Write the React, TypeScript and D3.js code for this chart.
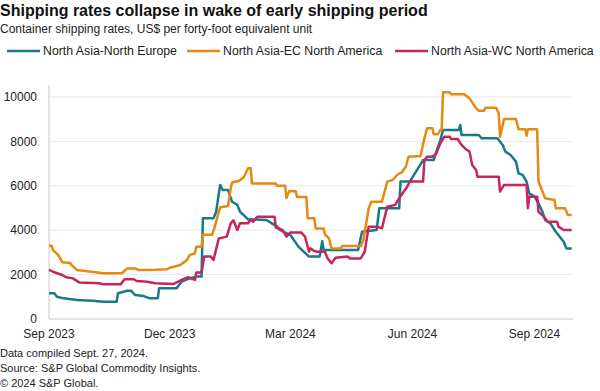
import React, { useEffect, useRef } from "react";
import * as d3 from "d3";

// [date, US$/FEU]
const northEurope: [string, number][] = [
  ["2023-09-01", 1160], ["2023-09-05", 1160], ["2023-09-07", 1000], ["2023-09-12", 930],
  ["2023-09-22", 860], ["2023-10-04", 820], ["2023-10-12", 780], ["2023-10-22", 780],
  ["2023-10-23", 1160], ["2023-10-30", 1270], ["2023-11-02", 1270], ["2023-11-05", 1080],
  ["2023-11-11", 1040], ["2023-11-16", 930], ["2023-11-22", 930], ["2023-11-23", 1380],
  ["2023-12-06", 1380], ["2023-12-10", 1680], ["2023-12-16", 1830], ["2023-12-21", 1910],
  ["2023-12-25", 1910], ["2023-12-26", 4540], ["2024-01-03", 4540], ["2024-01-05", 4830],
  ["2024-01-08", 6040], ["2024-01-10", 5810], ["2024-01-14", 5810], ["2024-01-17", 5280],
  ["2024-01-21", 5140], ["2024-01-23", 4830], ["2024-01-27", 4610], ["2024-01-29", 4490],
  ["2024-02-12", 4460], ["2024-02-16", 4310], ["2024-02-20", 4160], ["2024-02-22", 4010],
  ["2024-03-01", 3780], ["2024-03-07", 3260], ["2024-03-15", 2810], ["2024-03-23", 2810],
  ["2024-03-25", 3500], ["2024-03-26", 3110], ["2024-04-21", 3110], ["2024-04-24", 3930],
  ["2024-05-05", 4010], ["2024-05-07", 4990], ["2024-05-22", 4990], ["2024-05-23", 6190],
  ["2024-05-30", 6190], ["2024-06-09", 7160], ["2024-06-17", 7160], ["2024-06-19", 7540],
  ["2024-06-22", 8060], ["2024-06-24", 8510], ["2024-07-06", 8510], ["2024-07-07", 8740],
  ["2024-07-08", 8290], ["2024-07-21", 8290], ["2024-07-23", 8140], ["2024-08-04", 8140],
  ["2024-08-08", 7840], ["2024-08-10", 7540], ["2024-08-14", 7390], ["2024-08-18", 7090],
  ["2024-08-20", 6560], ["2024-08-23", 6490], ["2024-08-26", 6190], ["2024-08-28", 5660],
  ["2024-09-01", 5510], ["2024-09-04", 5210], ["2024-09-07", 4830], ["2024-09-09", 4460],
  ["2024-09-13", 4310], ["2024-09-17", 3930], ["2024-09-19", 3780], ["2024-09-23", 3480],
  ["2024-09-25", 3180], ["2024-09-29", 3180],
];

const ecNorthAmerica: [string, number][] = [
  ["2023-09-01", 3300], ["2023-09-03", 3300], ["2023-09-04", 3100], ["2023-09-08", 2880],
  ["2023-09-11", 2560], ["2023-09-17", 2520], ["2023-09-18", 2430], ["2023-09-22", 2210],
  ["2023-10-03", 2130], ["2023-10-12", 2060], ["2023-10-26", 2060], ["2023-10-30", 2280],
  ["2023-11-05", 2280], ["2023-11-07", 2210], ["2023-11-20", 2220], ["2023-11-29", 2240],
  ["2023-12-01", 2310], ["2023-12-09", 2430], ["2023-12-14", 2660], ["2023-12-16", 2880],
  ["2023-12-20", 2960], ["2023-12-21", 3260], ["2023-12-25", 3260], ["2023-12-26", 3800],
  ["2024-01-02", 3800], ["2024-01-04", 4160], ["2024-01-06", 4610], ["2024-01-08", 5030],
  ["2024-01-14", 5090], ["2024-01-16", 5890], ["2024-01-17", 6150], ["2024-01-22", 6220],
  ["2024-01-26", 6400], ["2024-01-29", 6790], ["2024-01-31", 6790], ["2024-02-01", 6100],
  ["2024-02-19", 6100], ["2024-02-20", 6000], ["2024-02-26", 6000], ["2024-02-27", 5450],
  ["2024-02-29", 5750], ["2024-03-05", 5750], ["2024-03-06", 5500], ["2024-03-13", 5500],
  ["2024-03-14", 4540], ["2024-03-19", 4540], ["2024-03-20", 4080], ["2024-03-26", 4080],
  ["2024-03-27", 3810], ["2024-03-30", 3630], ["2024-04-01", 3180], ["2024-04-08", 3180],
  ["2024-04-09", 3290], ["2024-04-23", 3290], ["2024-04-25", 3560], ["2024-04-29", 4990],
  ["2024-05-01", 5280], ["2024-05-09", 5280], ["2024-05-13", 6190], ["2024-05-17", 6260],
  ["2024-05-21", 6520], ["2024-05-24", 6610], ["2024-05-27", 6860], ["2024-05-29", 7310],
  ["2024-06-07", 7340], ["2024-06-10", 8140], ["2024-06-12", 8590], ["2024-06-16", 8590],
  ["2024-06-17", 8320], ["2024-06-20", 8320], ["2024-06-22", 8510], ["2024-06-23", 8510],
  ["2024-06-24", 10210], ["2024-06-29", 10210], ["2024-06-30", 10120], ["2024-07-10", 10120],
  ["2024-07-14", 9940], ["2024-07-19", 9490], ["2024-07-21", 9380], ["2024-07-25", 9380],
  ["2024-07-26", 9520], ["2024-08-03", 9520], ["2024-08-05", 9270], ["2024-08-06", 8210],
  ["2024-08-09", 9010], ["2024-08-18", 9010], ["2024-08-20", 8550], ["2024-08-25", 8550],
  ["2024-08-26", 8250], ["2024-08-27", 8550], ["2024-09-03", 8550], ["2024-09-04", 6190],
  ["2024-09-07", 5740], ["2024-09-09", 5440], ["2024-09-16", 5360], ["2024-09-17", 4990],
  ["2024-09-24", 4990], ["2024-09-26", 4690], ["2024-09-29", 4690],
];

const wcNorthAmerica: [string, number][] = [
  ["2023-09-01", 2210], ["2023-09-04", 2130], ["2023-09-11", 1980], ["2023-09-14", 1880],
  ["2023-09-19", 1830], ["2023-09-24", 1640], ["2023-10-09", 1610], ["2023-10-12", 1560],
  ["2023-10-25", 1560], ["2023-10-28", 1790], ["2023-11-04", 1790], ["2023-11-06", 1710],
  ["2023-11-14", 1680], ["2023-11-20", 1610], ["2023-12-04", 1580], ["2023-12-10", 1760],
  ["2023-12-15", 1880], ["2023-12-20", 1760], ["2023-12-21", 2090], ["2023-12-25", 2090],
  ["2023-12-27", 2810], ["2024-01-01", 2810], ["2024-01-03", 2660], ["2024-01-07", 3630],
  ["2024-01-13", 3710], ["2024-01-16", 4310], ["2024-01-18", 4450], ["2024-01-21", 4010],
  ["2024-01-23", 4310], ["2024-01-29", 4310], ["2024-01-31", 4480], ["2024-02-02", 4380],
  ["2024-02-05", 4610], ["2024-02-18", 4610], ["2024-02-19", 4120], ["2024-02-24", 4010],
  ["2024-02-27", 3710], ["2024-03-01", 3900], ["2024-03-09", 3900], ["2024-03-12", 3710],
  ["2024-03-15", 3030], ["2024-03-16", 3180], ["2024-03-19", 3060], ["2024-03-21", 3030],
  ["2024-03-27", 3030], ["2024-03-29", 2730], ["2024-04-01", 2510], ["2024-04-04", 2760],
  ["2024-04-13", 2810], ["2024-04-15", 2730], ["2024-04-23", 2730], ["2024-04-26", 3030],
  ["2024-04-29", 4160], ["2024-05-05", 4160], ["2024-05-09", 4090], ["2024-05-13", 5060],
  ["2024-05-19", 5140], ["2024-05-22", 5440], ["2024-05-28", 5960], ["2024-05-30", 6190],
  ["2024-06-09", 6190], ["2024-06-10", 7160], ["2024-06-12", 7310], ["2024-06-16", 7310],
  ["2024-06-19", 7460], ["2024-06-22", 7910], ["2024-06-25", 8210], ["2024-06-29", 8210],
  ["2024-06-30", 8110], ["2024-07-05", 8110], ["2024-07-08", 7840], ["2024-07-11", 7660],
  ["2024-07-14", 7540], ["2024-07-16", 6940], ["2024-07-19", 6710], ["2024-07-20", 6410],
  ["2024-08-05", 6410], ["2024-08-06", 5740], ["2024-08-09", 6040], ["2024-08-26", 6040],
  ["2024-08-27", 4990], ["2024-08-28", 5510], ["2024-09-03", 5510], ["2024-09-04", 4830],
  ["2024-09-08", 4610], ["2024-09-11", 4380], ["2024-09-18", 4380], ["2024-09-19", 4160],
  ["2024-09-23", 4010], ["2024-09-29", 4010],
];

const seriesNames = ["North Asia-North Europe", "North Asia-EC North America", "North Asia-WC North America"];
const seriesColors = ["#16798c", "#e8880f", "#c7255b"];
const yTicks = [0, 2000, 4000, 6000, 8000, 10000];
const xTickDates = ["2023-09-01", "2023-12-01", "2024-03-01", "2024-06-01", "2024-09-01"];
const xTickLabels = ["Sep 2023", "Dec 2023", "Mar 2024", "Jun 2024", "Sep 2024"];
const footerLines = [
  "Data compiled Sept. 27, 2024.",
  "Source: S&P Global Commodity Insights.",
  "\u00a9 2024 S&P Global.",
];

const width = 600;
const height = 391;
const margin = { top: 97, right: 27, bottom: 72, left: 49 };
const font = "Arial, 'Liberation Sans', Helvetica, sans-serif";

export default function App() {
  const ref = useRef<SVGSVGElement | null>(null);

  useEffect(() => {
    const svg = d3.select(ref.current);
    svg.selectAll("*").remove();

    const parse = d3.utcParse("%Y-%m-%d");

    const x = d3.scaleUtc()
      .domain([parse("2023-09-01")!, parse("2024-09-30")!])
      .range([margin.left, width - margin.right]);

    const y = d3.scaleLinear()
      .domain([0, 10000])
      .range([height - margin.bottom, margin.top]);

    svg.append("rect").attr("width", width).attr("height", height).attr("fill", "#fff");

    // grid
    svg.selectAll(".grid")
      .data(yTicks.filter(d => d > 0))
      .enter()
      .append("line")
      .attr("x1", margin.left)
      .attr("x2", width - margin.right)
      .attr("y1", d => y(d))
      .attr("y2", d => y(d))
      .attr("stroke", "#e8e8e8")
      .attr("stroke-width", 1);

    // axes lines
    svg.append("line")
      .attr("x1", margin.left).attr("x2", margin.left)
      .attr("y1", y(10000) - 12).attr("y2", y(0))
      .attr("stroke", "#c8c8c8");
    svg.append("line")
      .attr("x1", margin.left).attr("x2", width - margin.right)
      .attr("y1", y(0)).attr("y2", y(0))
      .attr("stroke", "#c8c8c8");

    // y tick labels
    svg.selectAll(".ylab")
      .data(yTicks)
      .enter()
      .append("text")
      .attr("x", margin.left - 12)
      .attr("y", d => y(d))
      .attr("dy", "0.35em")
      .attr("text-anchor", "end")
      .attr("font-family", font)
      .attr("font-size", 12)
      .attr("fill", "#222")
      .text(d => String(d));

    // x tick labels
    xTickDates.forEach((d, i) => {
      svg.append("text")
        .attr("x", x(parse(d)!))
        .attr("y", height - margin.bottom + 19)
        .attr("text-anchor", "middle")
        .attr("font-family", font)
        .attr("font-size", 12)
        .attr("fill", "#222")
        .text(xTickLabels[i]);
    });

    // lines
    const line = d3.line<[string, number]>()
      .x(d => x(parse(d[0])!))
      .y(d => y(d[1]));

    [northEurope, ecNorthAmerica, wcNorthAmerica].forEach((data, i) => {
      svg.append("path")
        .datum(data)
        .attr("d", line)
        .attr("fill", "none")
        .attr("stroke", seriesColors[i])
        .attr("stroke-width", 2.5)
        .attr("stroke-linejoin", "round");
    });

    // title
    svg.append("text")
      .attr("x", 0).attr("y", 16)
      .attr("font-family", font)
      .attr("font-size", 16)
      .attr("font-weight", "bold")
      .attr("fill", "#111")
      .text("Shipping rates collapse in wake of early shipping period");

    svg.append("text")
      .attr("x", 0).attr("y", 33)
      .attr("font-family", font)
      .attr("font-size", 12)
      .attr("fill", "#222")
      .text("Container shipping rates, US$ per forty-foot equivalent unit");

    // legend
    const legendX = [7, 187, 395];
    seriesNames.forEach((name, i) => {
      svg.append("line")
        .attr("x1", legendX[i]).attr("x2", legendX[i] + 33)
        .attr("y1", 51).attr("y2", 51)
        .attr("stroke", seriesColors[i])
        .attr("stroke-width", 2.5);
      svg.append("text")
        .attr("x", legendX[i] + 36)
        .attr("y", 55)
        .attr("font-family", font)
        .attr("font-size", 12.3)
        .attr("fill", "#222")
        .text(name);
    });

    // footer
    footerLines.forEach((t, i) => {
      svg.append("text")
        .attr("x", 0)
        .attr("y", 357 + i * 15)
        .attr("font-family", font)
        .attr("font-size", 11)
        .attr("fill", "#222")
        .text(t);
    });
  }, []);

  return (
    <svg
      ref={ref}
      width={width}
      height={height}
      style={{ position: "absolute", left: 0, top: 0 }}
    />
  );
}
